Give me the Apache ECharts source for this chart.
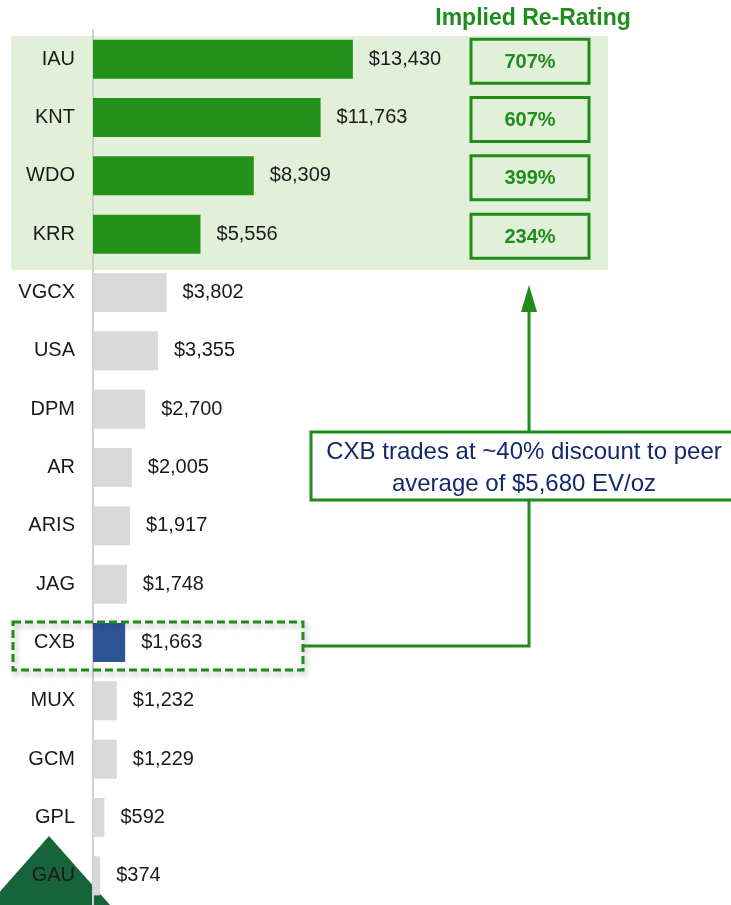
<!DOCTYPE html>
<html>
<head>
<meta charset="utf-8">
<script src="https://cdn.jsdelivr.net/npm/echarts@6/dist/echarts.min.js"></script>
<style>
  html, body { margin: 0; padding: 0; background: #fff; }
  #chart { width: 731px; height: 905px; }
</style>
</head>
<body>
<div id="chart"></div>
<script>
// data
const companies = ['IAU', 'KNT', 'WDO', 'KRR', 'VGCX', 'USA', 'DPM', 'AR', 'ARIS', 'JAG', 'CXB', 'MUX', 'GCM', 'GPL', 'GAU'];
const evPerOz = [13430, 11763, 8309, 5556, 3802, 3355, 2700, 2005, 1917, 1748, 1663, 1232, 1229, 592, 374];
const reRatingCompanies = ['IAU', 'KNT', 'WDO', 'KRR'];
const reRating = [707, 607, 399, 234];
const highlight = 'CXB';

const FONT = '"Liberation Sans", Arial, sans-serif';
const GREEN = '#1f8c1c';
const BAR_GREEN = '#24921a';

const chart = echarts.init(document.getElementById('chart'));

function barColor(name) {
  if (name === highlight) return '#2f5597';
  if (reRatingCompanies.includes(name)) return BAR_GREEN;
  return '#d9d9d9';
}

const option = {
  animation: false,
  grid: { left: 93, top: 30, width: 387, height: 882 },
  xAxis: { type: 'value', min: 0, max: 20000, show: false },
  yAxis: {
    type: 'category',
    inverse: true,
    data: companies,
    axisLine: { show: true, lineStyle: { color: '#d0d0d0', width: 2 } },
    axisTick: { show: false },
    axisLabel: { fontSize: 20, color: '#1a1a1a', margin: 18, fontFamily: FONT, padding: [3, 0, 0, 0] },
    z: 3
  },
  series: [
    {
      type: 'bar',
      barWidth: 39,
      z: 4,
      data: evPerOz.map((v, i) => ({ value: v, itemStyle: { color: barColor(companies[i]) } })),
      label: {
        show: true,
        position: 'right',
        distance: 16,
        fontSize: 20,
        color: '#1a1a1a',
        fontFamily: FONT,
        padding: [3, 0, 0, 0],
        formatter: p => '$' + p.value.toLocaleString('en-US')
      }
    },
    {
      // implied re-rating boxes
      type: 'custom',
      z: 4,
      encode: { x: 0, y: 1 },
      data: reRating.map((v, i) => [0, reRatingCompanies[i], v]),
      renderItem: (params, api) => {
        const y = api.coord([0, api.value(1)])[1] + 2;
        return {
          type: 'group',
          children: [
            {
              type: 'rect',
              shape: { x: 471, y: y - 22, width: 118, height: 44 },
              style: { fill: 'rgba(0,0,0,0)', stroke: GREEN, lineWidth: 3 }
            },
            {
              type: 'text',
              style: {
                x: 530, y: y + 1, text: api.value(2) + '%',
                align: 'center', verticalAlign: 'middle',
                fill: GREEN, font: 'bold 20px ' + FONT
              }
            }
          ]
        };
      }
    }
  ],
  graphic: [
    { type: 'rect', z: -10, shape: { x: 11, y: 36, width: 597, height: 234 }, style: { fill: '#e2f0d9' } },
    { type: 'polygon', z: -10, shape: { points: [[49, 836], [-12, 905], [110, 905]] }, style: { fill: '#17633a' } },
    {
      type: 'text', z: 10,
      style: { x: 533, y: 19, text: 'Implied Re-Rating', align: 'center', verticalAlign: 'middle', fill: GREEN, font: 'bold 23px ' + FONT }
    },
    {
      type: 'rect', z: 10,
      shape: { x: 13, y: 622, width: 290, height: 48 },
      style: {
        fill: 'rgba(0,0,0,0)', stroke: GREEN, lineWidth: 3, lineDash: [8, 4],
        shadowBlur: 6, shadowColor: 'rgba(0,0,0,0.35)', shadowOffsetX: 2, shadowOffsetY: 3
      }
    },
    { type: 'polyline', z: 10, shape: { points: [[303, 646], [529, 646], [529, 500]] }, style: { stroke: GREEN, lineWidth: 3, fill: null } },
    { type: 'line', z: 10, shape: { x1: 529, y1: 432, x2: 529, y2: 308 }, style: { stroke: GREEN, lineWidth: 3 } },
    { type: 'polygon', z: 10, shape: { points: [[521, 312], [537, 312], [529, 285]] }, style: { fill: GREEN } },
    {
      type: 'rect', z: 10,
      shape: { x: 311, y: 432, width: 426, height: 68 },
      style: { fill: '#fff', stroke: GREEN, lineWidth: 3 }
    },
    {
      type: 'text', z: 11,
      style: {
        x: 524, y: 468,
        text: 'CXB trades at ~40% discount to peer\naverage of $5,680 EV/oz',
        align: 'center', verticalAlign: 'middle',
        fill: '#13296b', font: '24px ' + FONT, lineHeight: 32
      }
    }
  ]
};

chart.setOption(option);
</script>
</body>
</html>
